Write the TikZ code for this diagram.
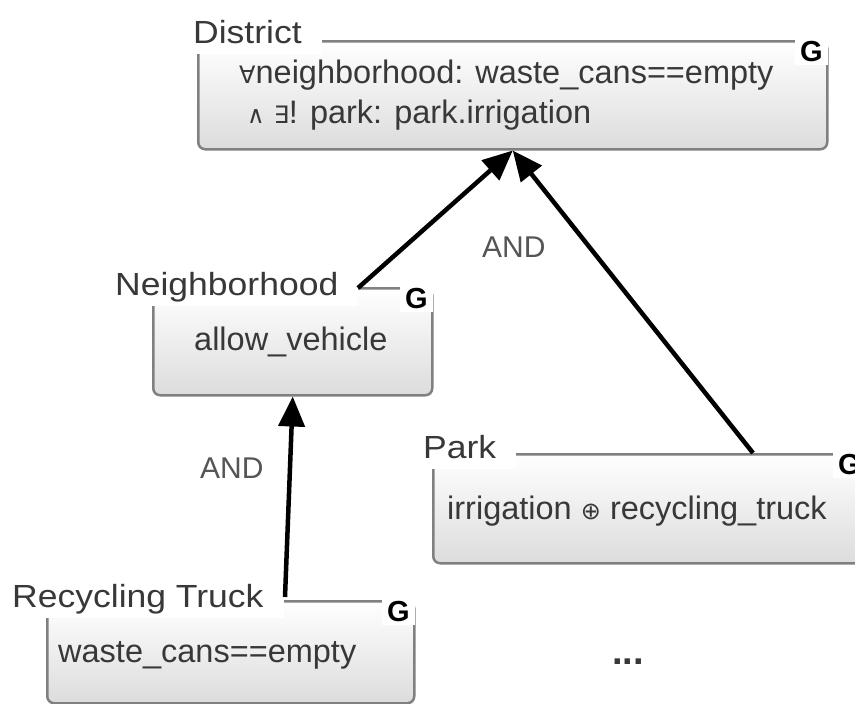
\documentclass[tikz,border=0pt]{standalone}
\usepackage{fontspec}
\setmainfont{Liberation Sans}
\newfontfamily\titlefont[FakeStretch=1.11]{Liberation Sans}
\newfontfamily\symfont{DejaVu Sans}
\usetikzlibrary{arrows.meta}
\definecolor{inkgray}{HTML}{383838}
\definecolor{framegray}{HTML}{808080}
\definecolor{fillbottom}{HTML}{DCDCDC}
\definecolor{andgray}{HTML}{555555}
% logic symbols, set a little smaller than the body text
\newcommand{\logicsym}[1]{{\symfont\fontsize{24}{24}\selectfont #1}}

\begin{document}
\begin{tikzpicture}[x=1pt,y=-1pt,
  goalbox/.style={draw=framegray, line width=2.5pt, rounded corners=7pt,
    top color=white, bottom color=fillbottom, anchor=north west, inner sep=0pt},
  goaltitle/.style={anchor=base west, xshift=-20pt, fill=white, inner xsep=20pt,
    inner ysep=0pt, text depth=11pt, text=inkgray,
    font=\titlefont\fontsize{32}{32}\selectfont},
  goalmark/.style={anchor=base east, fill=white, inner xsep=5pt, inner ysep=0pt,
    text height=24pt, text depth=4pt, font=\bfseries\fontsize{29}{29}\selectfont},
  goalbody/.style={anchor=base west, inner sep=0pt, text=inkgray, align=left,
    font=\fontsize{32.5}{40}\selectfont},
  andlabel/.style={anchor=base west, inner sep=0pt, text=andgray,
    font=\fontsize{30}{30}\selectfont},
  refines/.style={line width=4.5pt, -{Triangle[length=30pt,width=26pt]}}
]
\useasboundingbox (0,0) rectangle (855,704);
\fill[white] (0,0) rectangle (855,704);
\clip (0,0) rectangle (855,704);

% goal boxes
\node[goalbox, minimum width=629pt, minimum height=108pt] (districtbox) at (197,40) {};
\node[goalbox, minimum width=279pt, minimum height=107pt] (nbbox) at (152,287) {};
\node[goalbox, minimum width=432pt, minimum height=109pt] (parkbox) at (432,453) {};
\node[goalbox, minimum width=367pt, minimum height=102pt] (truckbox) at (46,600) {};

% titles
\node[goaltitle] (districttitle) at (193,43) {District};
\node[goaltitle] (nbtitle) at (115,295) {Neighborhood};
\node[goaltitle] (parktitle) at (423,458) {Park};
\node[goaltitle] (trucktitle) at (12,607) {Recycling Truck};

% goal markers
\node[goalmark] (districtmark) at (828,61) {G};
\node[goalmark] (nbmark) at (433,308) {G};
\node[goalmark] (parkmark) at (866,474) {G};
\node[goalmark] (truckmark) at (415,621) {G};

% conditions (the base anchor of a two-line node sits on its last line)
\node[goalbody] (districtbody) at (239,123)
  {\logicsym{∀}neighborhood: waste\_cans==empty\\
   \hspace{8pt}\logicsym{∧} \logicsym{∃}! park: park.irrigation};
\node[goalbody] (nbbody) at (194,350) {allow\_vehicle};
\node[goalbody] (parkbody) at (447,519) {irrigation \logicsym{⊕} recycling\_truck};
\node[goalbody] (truckbody) at (58,662) {waste\_cans==empty};

% refinement labels and ellipsis
\node[andlabel] (andupper) at (482,257) {AND};
\node[andlabel] (andlower) at (200,478) {AND};
\node[anchor=base west, inner sep=0pt, text=inkgray,
  font=\bfseries\fontsize{38}{38}\selectfont] (moregoals) at (612,664) {...};

% refinement arrows
\coordinate (nbtail) at (358,288);
\coordinate (parktail) at (753,453);
\coordinate (trucktail) at (285,597);
\draw[refines] (nbtail) -- (districtbox.south);
\draw[refines] (parktail) -- (districtbox.south);
\draw[refines] (trucktail) -- (nbbox.south);
\end{tikzpicture}
\end{document}
